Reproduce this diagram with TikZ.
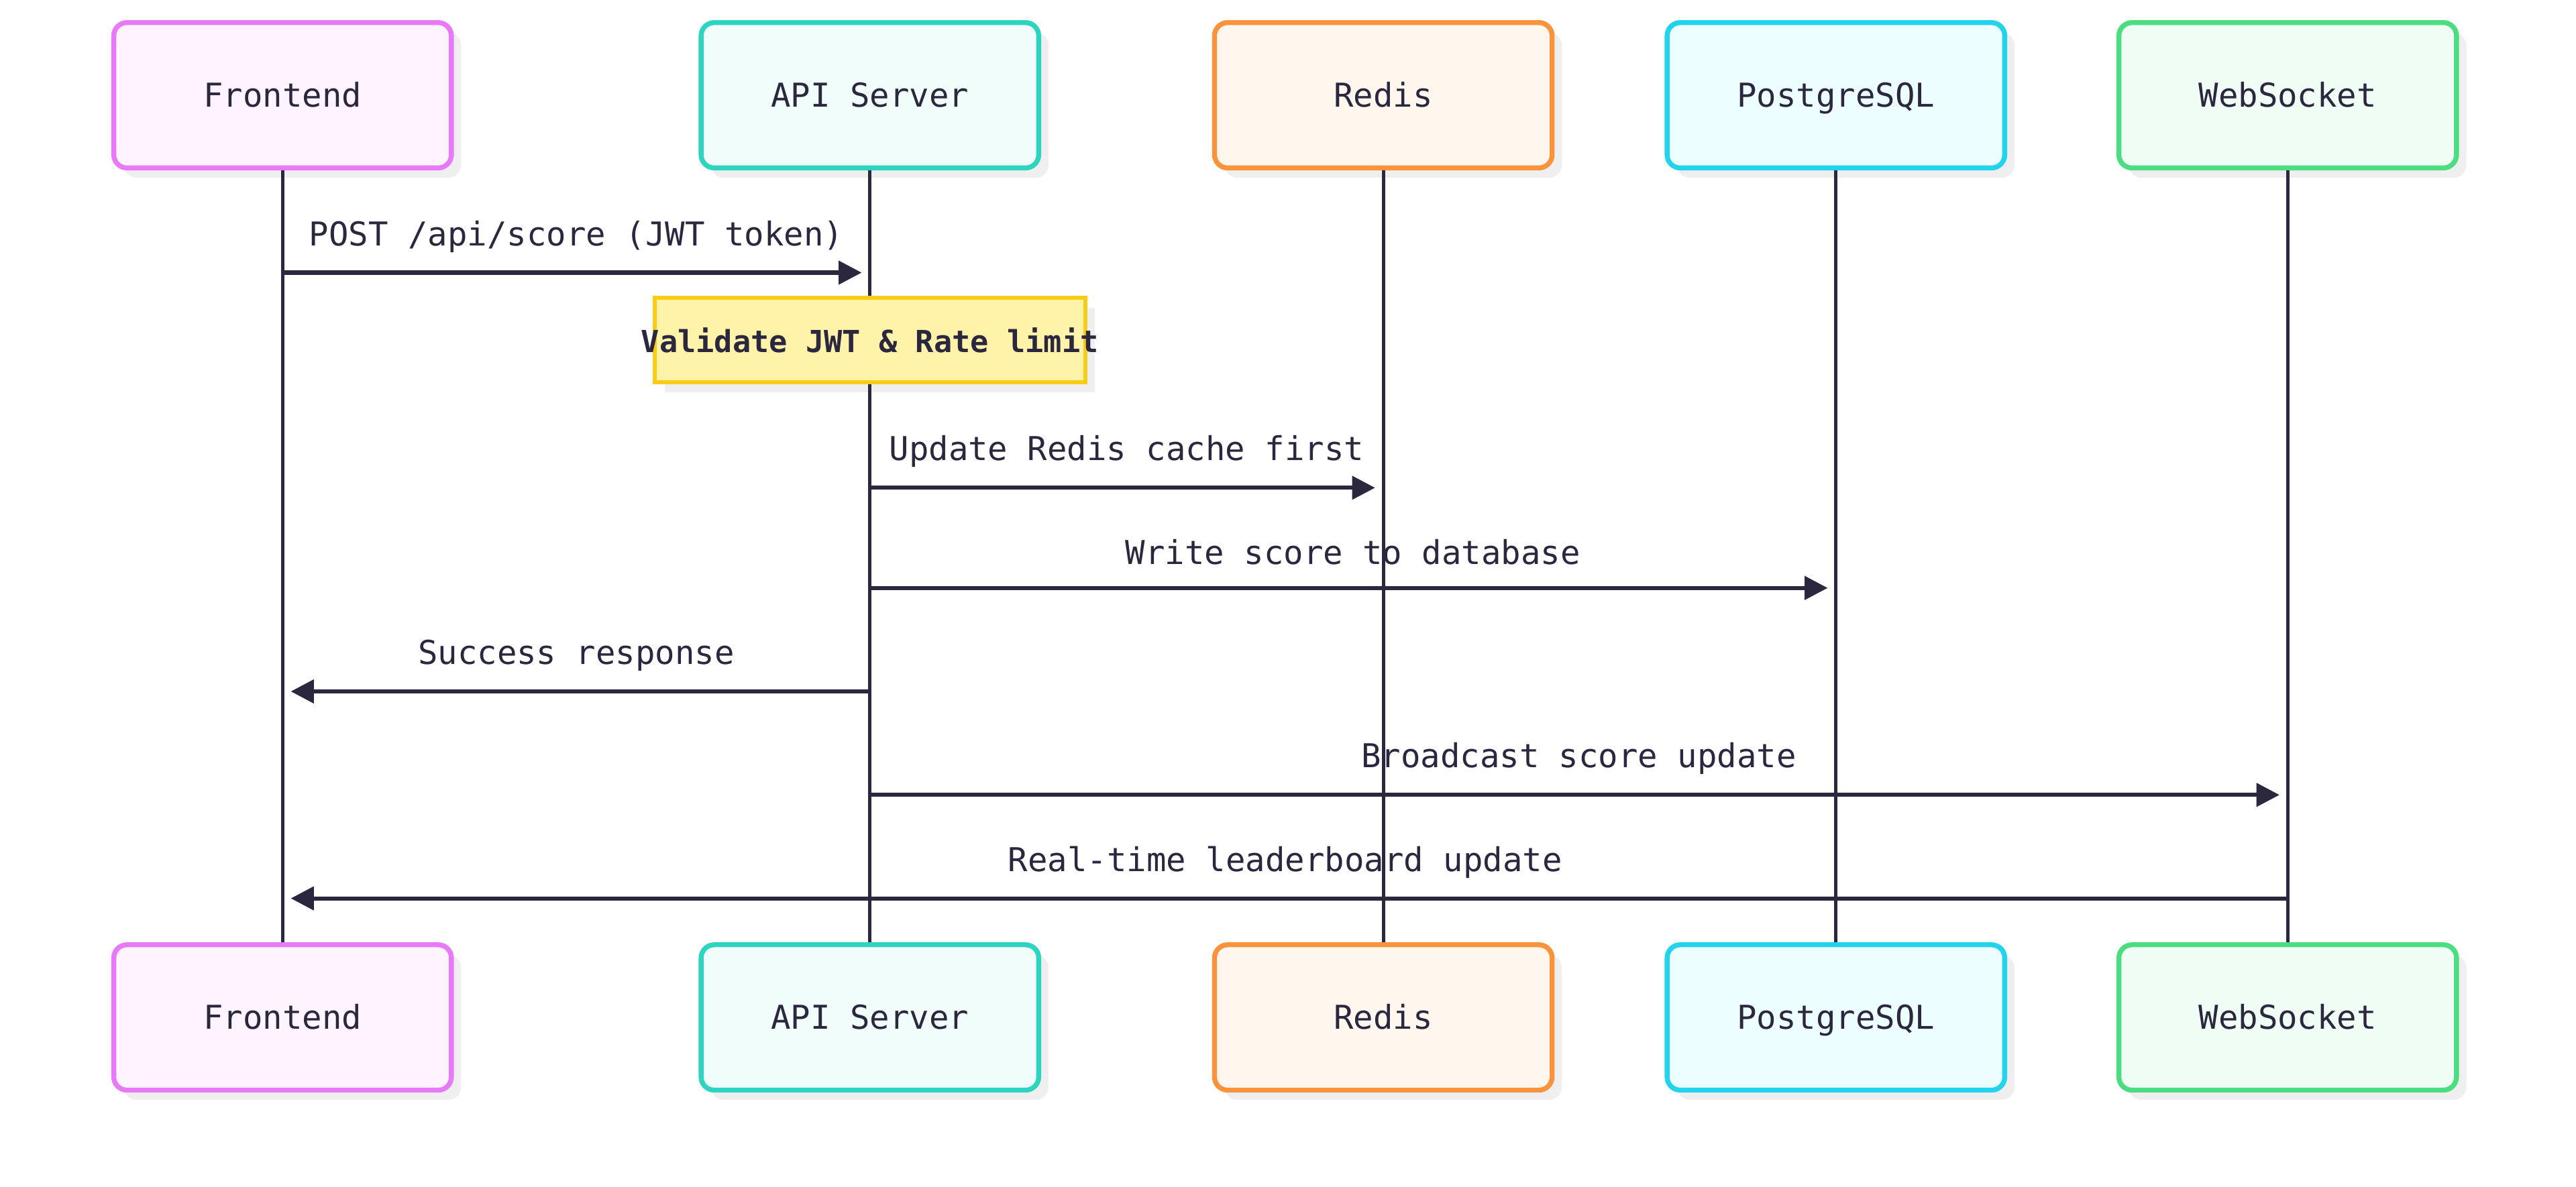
\documentclass[tikz,border=0pt]{standalone}
\usepackage{fontspec}
\setmonofont{DejaVu Sans Mono}
\usetikzlibrary{arrows.meta}
\usetikzlibrary{positioning}
\usetikzlibrary{shadows}

\definecolor{ink}{HTML}{2A273F}
\definecolor{shade}{HTML}{EFEFEF}
\definecolor{feD}{HTML}{E879F9}\definecolor{feL}{HTML}{FDF4FF}
\definecolor{apiD}{HTML}{2DD4BF}\definecolor{apiL}{HTML}{F0FDFA}
\definecolor{redD}{HTML}{FB923C}\definecolor{redL}{HTML}{FFF7ED}
\definecolor{pgD}{HTML}{22D3EE}\definecolor{pgL}{HTML}{ECFEFF}
\definecolor{wsD}{HTML}{4ADE80}\definecolor{wsL}{HTML}{F0FDF4}
\definecolor{noteD}{HTML}{FACC15}\definecolor{noteL}{HTML}{FEF3A8}

\begin{document}
\begin{tikzpicture}[x=1pt, y=1pt,
      actor/.style={rectangle, rounded corners=8pt, line width=3pt, minimum width=205.5pt, minimum height=88.5pt, text height=14.5pt, text depth=0pt, text=ink, font=\ttfamily\fontsize{20}{24}\selectfont, drop shadow={shadow xshift=6pt, shadow yshift=-6pt, fill=shade, opacity=1}},
      life/.style={draw=ink, line width=2pt},
      msg/.style={draw=ink, line width=2.5pt, -{Triangle[length=14pt, width=14pt]}, shorten >=5pt},
      msglabel/.style={text=ink, font=\ttfamily\fontsize{20}{24}\selectfont, yshift=22pt},
      note/.style={rectangle, draw=noteD, fill=noteL, line width=2.5pt, minimum width=262pt, minimum height=51.5pt, inner xsep=0pt, text=ink, font=\ttfamily\bfseries\fontsize{18.5}{22}\selectfont, drop shadow={shadow xshift=6pt, shadow yshift=-6pt, fill=shade, opacity=1}}
      ]
      \useasboundingbox (0,0) rectangle (1568,-722.7);

      % Actors
      \node[actor, draw=feD, fill=feL] (feT) at (172,-58) {Frontend};
      \node[actor, draw=apiD, fill=apiL] (apiT) at (529.5,-58) {API Server};
      \node[actor, draw=redD, fill=redL] (redT) at (842,-58) {Redis};
      \node[actor, draw=pgD, fill=pgL] (pgT) at (1117.5,-58) {PostgreSQL};
      \node[actor, draw=wsD, fill=wsL] (wsT) at (1392.5,-58) {WebSocket};

      \node[actor, draw=feD, fill=feL, below=470pt of feT] (feB) {Frontend};
      \node[actor, draw=apiD, fill=apiL, below=470pt of apiT] (apiB) {API Server};
      \node[actor, draw=redD, fill=redL, below=470pt of redT] (redB) {Redis};
      \node[actor, draw=pgD, fill=pgL, below=470pt of pgT] (pgB) {PostgreSQL};
      \node[actor, draw=wsD, fill=wsL, below=470pt of wsT] (wsB) {WebSocket};

      % Message rows
      \coordinate (m1) at (0,-166);
      \coordinate (n1) at (0,-207);
      \coordinate (m2) at (0,-297);
      \coordinate (m3) at (0,-358);
      \coordinate (m4) at (0,-421);
      \coordinate (m5) at (0,-484);
      \coordinate (m6) at (0,-547);

      % Note
      \node[note] (check) at (apiT |- n1) {\makebox[250pt]{Validate JWT \& Rate limit}};

      % Lifelines
      \draw[life] (feT) -- (feB);
      \draw[life] (apiT) -- (check);
      \draw[life] (check) -- (apiB);
      \draw[life] (redT) -- (redB);
      \draw[life] (pgT) -- (pgB);
      \draw[life] (wsT) -- (wsB);

      % Messages
      \draw[msg] (feT |- m1) -- node[msglabel] {POST /api/score (JWT token)} (apiT |- m1);
      \draw[msg] (apiT |- m2) -- node[msglabel] {Update Redis cache first} (redT |- m2);
      \draw[msg] (apiT |- m3) -- node[msglabel] {Write score to database} (pgT |- m3);
      \draw[msg] (apiT |- m4) -- node[msglabel] {Success response} (feT |- m4);
      \draw[msg] (apiT |- m5) -- node[msglabel] {Broadcast score update} (wsT |- m5);
      \draw[msg] (wsT |- m6) -- node[msglabel] {Real-time leaderboard update} (feT |- m6);

    \end{tikzpicture}
\end{document}
